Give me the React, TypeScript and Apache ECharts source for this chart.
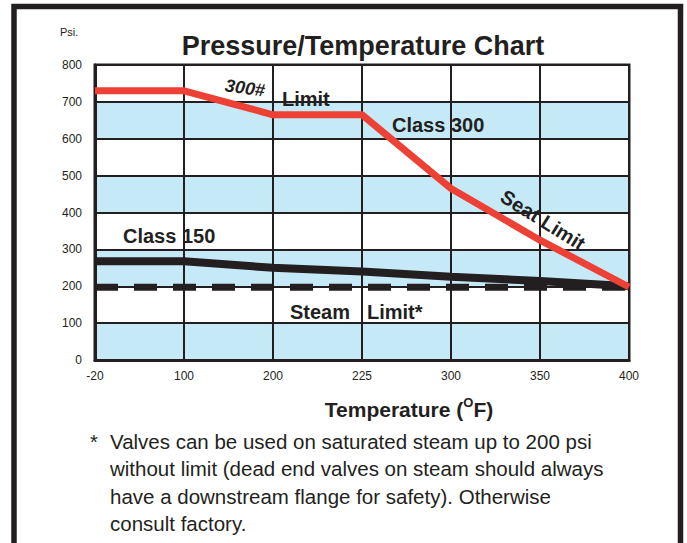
import React, { useEffect, useRef } from "react";
import * as echarts from "echarts";

const categories = ["-20", "100", "200", "225", "300", "350", "400"];
const class300 = [730, 730, 665, 665, 465, 325, 198];
const class150 = [268, 268, 250, 240, 226, 214, 200];
const steamLimit = [197, 197, 197, 197, 197, 197, 197];
const yTicks = { min: 0, max: 800, interval: 100 };

const INK = "#231f20";
const RED = "#ee4136";
const BLUE = "#c6e9f8";
const FONT = '"Liberation Sans", Arial, Helvetica, sans-serif';

const footnote = [
  "Valves can be used on saturated steam up to 200 psi",
  "without limit (dead end valves on steam should always",
  "have a downstream flange for safety). Otherwise",
  "consult factory.",
];

export default function App() {
  const ref = useRef<HTMLDivElement>(null);
  useEffect(() => {
    document.body.style.margin = "0";
    const chart = echarts.init(ref.current!, null, { renderer: "svg" });
    const label = (text: string, x: number, y: number, extra: any = {}) => ({
      type: "text",
      x,
      y,
      rotation: extra.rotation || 0,
      style: {
        text,
        fill: INK,
        font: extra.font || `bold 20px ${FONT}`,
        textAlign: extra.align || "left",
        textVerticalAlign: "middle",
      },
      z: 100,
    });
    chart.setOption({
      animation: false,
      backgroundColor: "#ffffff",
      grid: {
        left: 95,
        top: 65,
        right: 58,
        bottom: 183,
        show: true,
        borderColor: INK,
        borderWidth: 3,
        backgroundColor: "transparent",
      },
      xAxis: {
        type: "category",
        data: categories,
        boundaryGap: false,
        axisTick: { show: false },
        axisLine: { show: true, lineStyle: { color: INK, width: 3 } },
        axisLabel: { color: INK, fontSize: 12, margin: 10, fontFamily: FONT },
        splitLine: { show: true, lineStyle: { color: INK, width: 2 } },
      },
      yAxis: {
        type: "value",
        min: yTicks.min,
        max: yTicks.max,
        interval: yTicks.interval,
        axisTick: { show: false },
        axisLine: { show: true, lineStyle: { color: INK, width: 3 } },
        axisLabel: { color: INK, fontSize: 12, margin: 13, fontFamily: FONT },
        splitLine: { show: true, lineStyle: { color: INK, width: 2 } },
        splitArea: { show: true, areaStyle: { color: [BLUE, "#ffffff"] } },
      },
      series: [
        {
          name: "Steam Limit",
          type: "line",
          data: steamLimit,
          symbol: "none",
          lineStyle: { color: INK, width: 7, type: [23, 16] },
          z: 3,
        },
        {
          name: "Class 150",
          type: "line",
          data: class150,
          symbol: "none",
          lineStyle: { color: INK, width: 8 },
          z: 4,
        },
        {
          name: "Class 300",
          type: "line",
          data: class300,
          symbol: "none",
          lineStyle: { color: RED, width: 7 },
          z: 5,
        },
      ],
      graphic: [
        {
          type: "rect",
          shape: { x: 14, y: 6.5, width: 666.5, height: 620 },
          style: { fill: "none", stroke: INK, lineWidth: 5.5 },
        },
        label("Psi.", 60, 32, { font: `11px ${FONT}` }),
        label("Pressure/Temperature Chart", 363, 46, {
          font: `bold 27px ${FONT}`,
          align: "center",
        }),
        label("300#", 245, 88, {
          font: `italic bold 18px ${FONT}`,
          align: "center",
          rotation: -0.14,
        }),
        label("Limit", 282, 99),
        label("Class 300", 392, 125),
        label("Seat Limit", 543, 220, { align: "center", rotation: -0.56 }),
        label("Class 150", 123, 236),
        label("Steam", 290, 312),
        label("Limit*", 367, 312),
        {
          type: "text",
          x: 409,
          y: 408,
          style: {
            text: "{m|Temperature (}{s|O}{m|F)}",
            textAlign: "center",
            textVerticalAlign: "middle",
            rich: {
              m: { font: `bold 21px ${FONT}`, fill: INK, lineHeight: 24, verticalAlign: "bottom" },
              s: { font: `bold 13px ${FONT}`, fill: INK, lineHeight: 24, verticalAlign: "top" },
            },
          },
        },
        label("*", 90, 442, { font: `20px ${FONT}` }),
        ...footnote.map((t, i) =>
          label(t, 110, 441.5 + i * 27.3, { font: `20.5px ${FONT}` })
        ),
      ],
    });
    return () => chart.dispose();
  }, []);
  return <div ref={ref} style={{ width: 687, height: 543 }} />;
}
